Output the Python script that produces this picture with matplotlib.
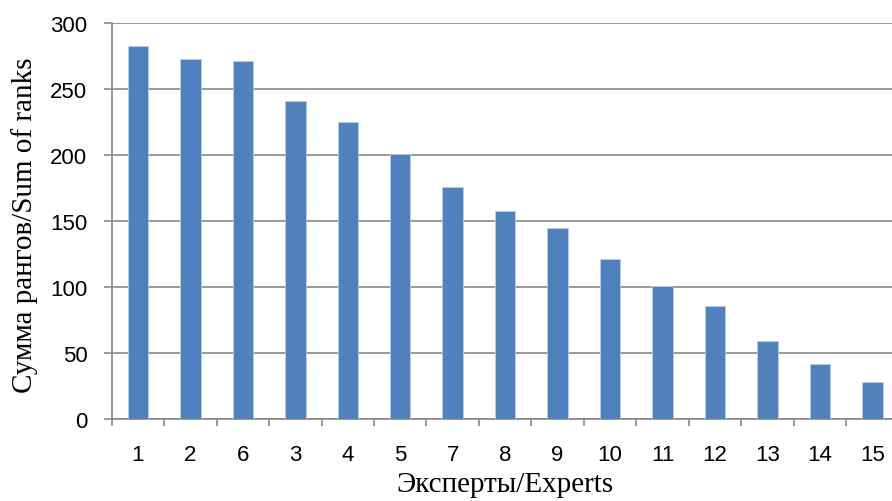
import matplotlib.pyplot as plt
import numpy as np

experts = ['1', '2', '6', '3', '4', '5', '7', '8', '9', '10', '11', '12', '13', '14', '15']
rank_sums = [283, 273, 271, 241, 225, 201, 176, 158, 145, 121, 101, 86, 59, 42, 28]
y_ticks = [0, 50, 100, 150, 200, 250, 300]

fig = plt.figure(figsize=(8.92, 5.02), dpi=100)
# axes run slightly past the right edge, like the original
ax = fig.add_axes([0.1253, 0.163, 0.882, 0.789])

x = np.arange(len(experts))
ax.bar(x, rank_sums, width=0.39, color='#4f81bd', edgecolor='#b9cde5', linewidth=0.6, zorder=3)

ax.set_xlim(-0.5, len(experts) - 0.5)
ax.set_ylim(0, 300)
ax.set_yticks(y_ticks)
ax.yaxis.grid(True, color='#888888', linewidth=1.2, zorder=0)

# category labels in the middle, tick marks on the boundaries
ax.set_xticks(x)
ax.set_xticklabels(experts, fontsize=16, family='Liberation Sans')
ax.tick_params(axis='x', length=0, pad=18)
ax.set_xticks(np.arange(len(experts) + 1) - 0.5, minor=True)
ax.tick_params(axis='x', which='minor', length=5, color='#888888', width=1.2)
ax.tick_params(axis='y', length=5.5, color='#888888', width=1.2, labelsize=16, pad=12)
for lbl in ax.get_yticklabels():
    lbl.set_family('Liberation Sans')

for side in ['top', 'right']:
    ax.spines[side].set_visible(False)
for side in ['left', 'bottom']:
    ax.spines[side].set_color('#888888')
    ax.spines[side].set_linewidth(1.2)

fig.text(0.566, 0.008, 'Эксперты/Experts', family='Liberation Serif', fontsize=21,
         ha='center', va='bottom')
fig.text(0.028, 0.552, 'Сумма рангов/Sum of ranks', family='Liberation Serif', fontsize=21,
         ha='center', va='center', rotation=90)

fig.savefig('out.png', dpi=100)
